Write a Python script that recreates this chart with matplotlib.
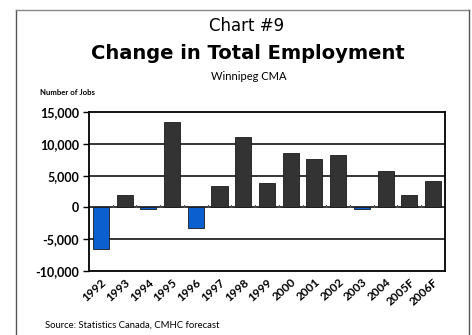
import numpy as np
import matplotlib.pyplot as plt

plt.rcParams['font.family'] = ['Lato', 'DejaVu Sans']

years = ['1992', '1993', '1994', '1995', '1996', '1997', '1998', '1999',
         '2000', '2001', '2002', '2003', '2004', '2005F', '2006F']
jobs = [-6600, 2000, -300, 13500, -3250, 3350, 11100, 3800,
        8500, 7600, 8300, -300, 5750, 2000, 4100]

fig = plt.figure(figsize=(4.72, 3.35), dpi=100)
ax = fig.add_axes([0.1886, 0.191, 0.754, 0.4746])

x = np.arange(len(years))
kolory = ['#0b5fcf' if v < 0 else '#333333' for v in jobs]
ax.bar(x, jobs, width=0.68, color=kolory, edgecolor='#1a1a1a', linewidth=0.6, zorder=3)

ax.set_xlim(-0.5, len(years) - 0.5)
ax.set_ylim(-10000, 15000)
ax.set_yticks([-10000, -5000, 0, 5000, 10000, 15000])
ax.set_yticklabels(['-10,000', '-5,000', '0', '5,000', '10,000', '15,000'],
                   fontsize=9, fontweight='bold')
ax.set_xticks(x)
ax.set_xticklabels(years, rotation=42, ha='right', rotation_mode='anchor',
                   fontsize=8.5, fontweight='bold')
ax.tick_params(axis='x', length=0, pad=4)
ax.tick_params(axis='y', length=4, width=1, pad=3)

# linie siatki
for v in [-5000, 0, 5000, 10000]:
    ax.axhline(v, color='black', linewidth=1.1, zorder=2)

# male kreski na osi zero miedzy kategoriami
for b in x[:-1] + 0.5:
    ax.plot([b, b], [0, 450], color='#555555', linewidth=0.8, zorder=2)

for s in ax.spines.values():
    s.set_linewidth(1.3)

fig.text(0.522, 0.922, 'Chart #9', ha='center', va='center', fontsize=12,
         family='DejaVu Sans')
fig.text(0.525, 0.84, 'Change in Total Employment', ha='center', va='center',
         fontsize=14, fontweight='bold', family='DejaVu Sans')
fig.text(0.527, 0.773, 'Winnipeg CMA', ha='center', va='center', fontsize=8)
fig.text(0.085, 0.725, 'Number of Jobs', ha='left', va='center', fontsize=5.6, fontweight='bold')
fig.text(0.096, 0.03, 'Source: Statistics Canada, CMHC forecast', ha='left', va='center',
         fontsize=6.8)

# ramka
fig.add_artist(plt.Line2D([0.034, 0.034], [0, 0.97], color='#555555', linewidth=1,
                          transform=fig.transFigure))
fig.add_artist(plt.Line2D([0.034, 0.994], [0.97, 0.97], color='#888888', linewidth=1,
                          transform=fig.transFigure))
fig.add_artist(plt.Line2D([0.994, 0.994], [0, 0.97], color='#555555', linewidth=1,
                          transform=fig.transFigure))

fig.savefig('out.png', dpi=100)
